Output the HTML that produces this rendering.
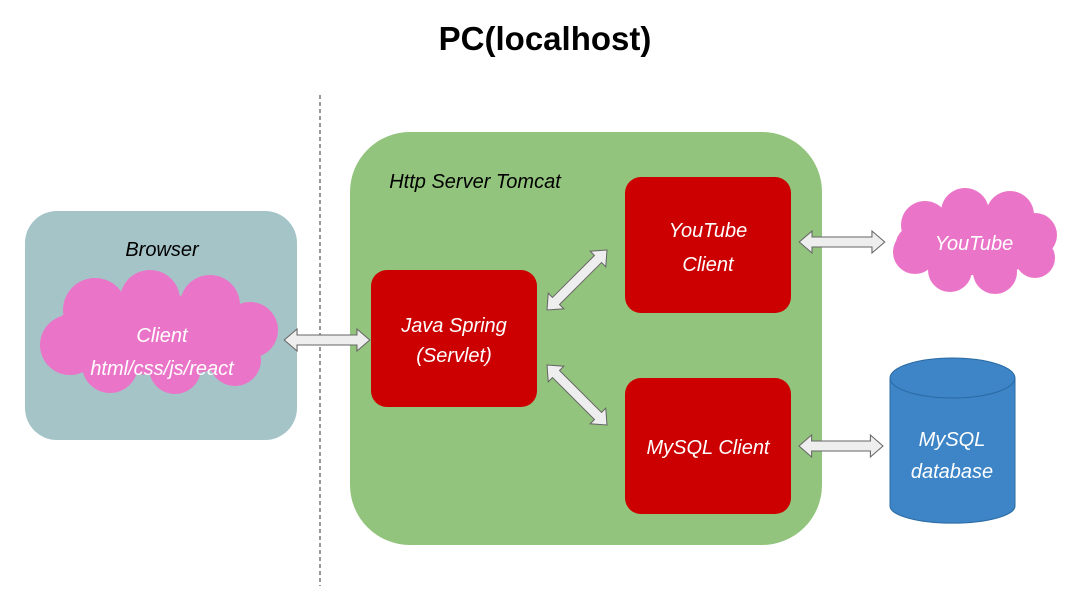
<!DOCTYPE html>
<html><head><meta charset="utf-8"><style>
html,body{margin:0;padding:0;background:#fff;}
svg{display:block;}
.h{font-family:"Liberation Sans",sans-serif;font-style:italic;}
</style></head><body>
<svg width="1088" height="596" viewBox="0 0 1088 596" xmlns="http://www.w3.org/2000/svg">
<defs>
<polygon id="da" points="-40,0 -28,-11 -28,-5 28,-5 28,-11 40,0 28,11 28,5 -28,5 -28,11" fill="#eeeeee" stroke="#666" stroke-width="1"/>
</defs>
<text x="545" y="50" text-anchor="middle" font-family="Liberation Sans,sans-serif" font-weight="bold" font-size="33" fill="#000">PC(localhost)</text>
<line x1="320" y1="95" x2="320" y2="586" stroke="#333" stroke-width="1" stroke-dasharray="4,3"/>

<rect x="25" y="211" width="272" height="229" rx="32" fill="#a5c4c8"/>
<text class="h" x="162" y="256" text-anchor="middle" font-size="20" fill="#000">Browser</text>
<g fill="#ea75c8">
<ellipse cx="160" cy="335" rx="112" ry="40"/>
<circle cx="95" cy="310" r="32"/><circle cx="150" cy="300" r="30"/><circle cx="210" cy="305" r="30"/>
<circle cx="250" cy="330" r="28"/><circle cx="70" cy="345" r="30"/><circle cx="110" cy="365" r="28"/>
<circle cx="175" cy="368" r="26"/><circle cx="235" cy="360" r="26"/>
</g>
<text class="h" x="162" y="342" text-anchor="middle" font-size="20" fill="#fff">Client</text>
<text class="h" x="162" y="375" text-anchor="middle" font-size="20" fill="#fff">html/css/js/react</text>

<rect x="350" y="132" width="472" height="413" rx="60" fill="#93c47d"/>
<text class="h" x="475" y="188" text-anchor="middle" font-size="20" fill="#000">Http Server Tomcat</text>

<rect x="371" y="270" width="166" height="137" rx="16" fill="#cc0000"/>
<text class="h" x="454" y="332" text-anchor="middle" font-size="20" fill="#fff">Java Spring</text>
<text class="h" x="454" y="362" text-anchor="middle" font-size="20" fill="#fff">(Servlet)</text>
<rect x="625" y="177" width="166" height="136" rx="16" fill="#cc0000"/>
<text class="h" x="708" y="237" text-anchor="middle" font-size="20" fill="#fff">YouTube</text>
<text class="h" x="708" y="271" text-anchor="middle" font-size="20" fill="#fff">Client</text>
<rect x="625" y="378" width="166" height="136" rx="16" fill="#cc0000"/>
<text class="h" x="708" y="454" text-anchor="middle" font-size="20" fill="#fff">MySQL Client</text>

<g fill="#ea75c8">
<ellipse cx="974" cy="243" rx="78" ry="32"/>
<circle cx="925" cy="225" r="24"/><circle cx="965" cy="212" r="24"/><circle cx="1010" cy="215" r="24"/>
<circle cx="1035" cy="235" r="22"/><circle cx="915" cy="252" r="22"/><circle cx="950" cy="270" r="22"/>
<circle cx="995" cy="272" r="22"/><circle cx="1035" cy="258" r="20"/>
</g>
<text class="h" x="974" y="250" text-anchor="middle" font-size="20" fill="#fff">YouTube</text>

<path d="M890,378 L890,506 A62,17 0 0 0 1015,506 L1015,378" fill="#3d85c6" stroke="#2a6aa3"/>
<ellipse cx="952.5" cy="378" rx="62.5" ry="20" fill="#3d85c6" stroke="#2a6aa3"/>
<text class="h" x="952" y="446" text-anchor="middle" font-size="20" fill="#fff">MySQL</text>
<text class="h" x="952" y="478" text-anchor="middle" font-size="20" fill="#fff">database</text>

<use href="#da" transform="translate(327,340) scale(1.07,1)"/>
<use href="#da" transform="translate(842,242) scale(1.07,1)"/>
<use href="#da" transform="translate(841,446) scale(1.05,1)"/>
<use href="#da" transform="translate(577,280) rotate(-45) scale(1.06,1)"/>
<use href="#da" transform="translate(577,395) rotate(45) scale(1.06,1)"/>
</svg>
</body></html>
